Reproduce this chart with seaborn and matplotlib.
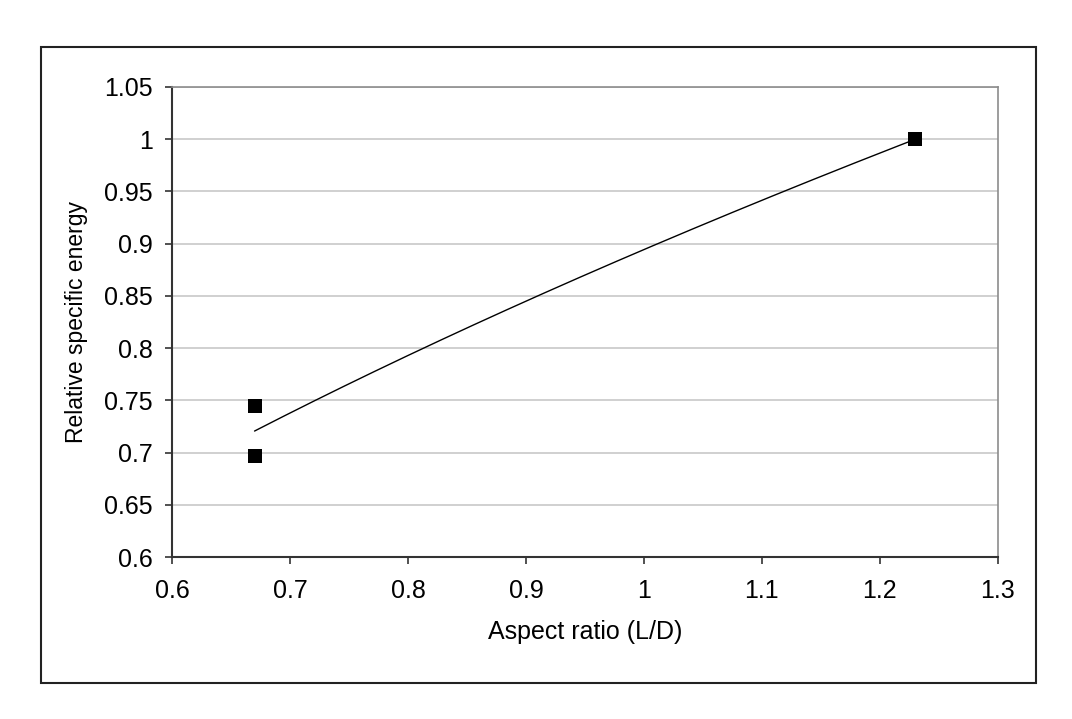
import numpy as np
import seaborn as sns
import matplotlib.pyplot as plt
from matplotlib import ticker
from matplotlib.patches import Rectangle

# data
aspect_ratio = [0.67, 0.67, 1.23]
rel_energy = [0.745, 0.697, 1.0]

sns.set_style("white")
plt.rcParams['font.family'] = ['Liberation Sans', 'DejaVu Sans']
plt.rcParams['text.color'] = 'black'
plt.rcParams['axes.labelcolor'] = 'black'
plt.rcParams['xtick.color'] = 'black'
plt.rcParams['ytick.color'] = 'black'

fig = plt.figure(figsize=(10.72, 7.19), dpi=100)
ax = fig.add_axes([0.1604, 0.2253, 0.7705, 0.6537])

# power trendline (y = a * x^b), fitted like Excel does
b, log_a = np.polyfit(np.log(aspect_ratio), np.log(rel_energy), 1)
xs = np.linspace(min(aspect_ratio), max(aspect_ratio), 200)
sns.lineplot(x=xs, y=np.exp(log_a) * xs ** b, color='black', linewidth=1.0, ax=ax)

sns.scatterplot(x=aspect_ratio, y=rel_energy, marker='s', s=95, color='black',
                linewidth=0, ax=ax, zorder=3)

ax.set_xlim(0.6, 1.3)
ax.set_ylim(0.6, 1.05)
ax.xaxis.set_major_locator(ticker.MultipleLocator(0.1))
ax.yaxis.set_major_locator(ticker.MultipleLocator(0.05))
ax.xaxis.set_major_formatter(ticker.FuncFormatter(lambda v, p: f'{v:g}'))
ax.yaxis.set_major_formatter(ticker.FuncFormatter(lambda v, p: f'{round(v, 2):g}'))

ax.grid(axis='y', color='#c8c8c8', linewidth=1.2)
ax.set_axisbelow(True)
for side in ['left', 'bottom']:
    ax.spines[side].set_color('#333333')
    ax.spines[side].set_linewidth(1.5)
for side in ['top', 'right']:
    ax.spines[side].set_color('#8c8c8c')
    ax.spines[side].set_linewidth(1.2)

ax.tick_params(axis='both', which='major', direction='out', length=5, width=1.2,
               color='#333333', labelcolor='black', labelsize=18, left=True, bottom=True)
ax.tick_params(axis='y', pad=9)
ax.tick_params(axis='x', pad=11)

ax.set_xlabel('Aspect ratio (L/D)', size=18, labelpad=12, color='black')
ax.set_ylabel('Relative specific energy', size=16.5, labelpad=11, color='black')

# chart area border
fig.patches.append(Rectangle((0.0382, 0.0501), 0.928, 0.8846, transform=fig.transFigure,
                             fill=False, edgecolor='#222222', linewidth=1.5))

plt.savefig('out.png', dpi=100)
